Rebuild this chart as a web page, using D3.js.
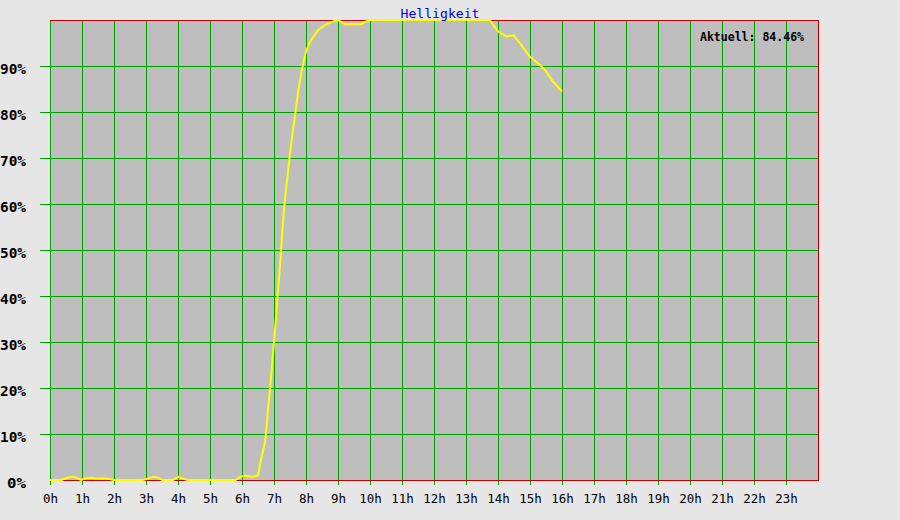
<!DOCTYPE html>
<html>
<head>
<meta charset="utf-8">
<script src="https://cdn.jsdelivr.net/npm/d3@7"></script>
<style>
  html, body { margin: 0; padding: 0; background: #e6e6e6; }
  svg { display: block; }
</style>
</head>
<body>
<svg id="chart" width="900" height="520"></svg>
<script>
// ---- data ----
const title = "Helligkeit";
const currentLabel = "Aktuell: 84.46%";
const hourTicks = d3.range(0, 24);
const percentTicks = [10, 20, 30, 40, 50, 60, 70, 80, 90];
const hours = [
  0.00, 0.35, 0.55, 0.72, 0.85, 0.97, 1.10, 1.30, 1.50, 1.70, 1.85, 2.00,
  2.90, 3.05, 3.25, 3.40, 3.50, 3.85, 4.00, 4.15, 4.30, 5.80, 5.95, 6.10,
  6.30, 6.50, 6.56, 6.66, 6.72, 6.78, 6.81, 6.875, 6.90, 6.98, 7.04, 7.10,
  7.17, 7.22, 7.27, 7.34, 7.42, 7.50, 7.58, 7.68, 7.76, 7.87, 7.97, 8.02,
  8.10, 8.23, 8.38, 8.59, 8.80, 9.00, 9.22, 9.74, 9.84, 10.00, 13.75, 13.85,
  14.01, 14.27, 14.48, 14.69, 15.00, 15.31, 15.47, 15.68, 16.00
];
const brightness = [
  0, 0, 0.5, 0.7, 0.4, 0, 0.4, 0.5, 0.3, 0.4, 0.2, 0,
  0, 0.3, 0.7, 0.4, 0, 0, 0.7, 0.3, 0, 0, 0.7, 0.9,
  0.7, 0.9, 3.3, 6.5, 8.3, 12.4, 15.2, 19.6, 21.7, 28.3, 33.3, 39.1,
  45.0, 50.0, 55.1, 60.9, 65.9, 71.0, 75.4, 80.4, 84.8, 89.1, 92.4, 93.5,
  94.9, 96.4, 97.8, 98.9, 99.6, 100, 99.1, 99.1, 99.6, 100, 100, 98.9,
  97.5, 96.4, 96.7, 94.9, 92.0, 90.2, 89.1, 87.0, 84.46
];

// ---- layout ----
const svg = d3.select("#chart");
const pL = 50, pR = 818, pT = 20, pB = 480;
const x = d3.scaleLinear().domain([0, 24]).range([pL, pR]);
const y = d3.scaleLinear().domain([0, 100]).range([pB, pT]);
const FONT = "'DejaVu Sans Mono', monospace";
const GRID = "#00a000";
const BORDER = "#c00000";

svg.append("rect").attr("width", 900).attr("height", 520).attr("fill", "#e6e6e6");
svg.append("rect")
  .attr("x", pL).attr("y", pT)
  .attr("width", pR - pL).attr("height", pB - pT)
  .attr("fill", "#bebebe");

// x axis (vertical gridlines + labels)
const xAxis = svg.append("g")
  .attr("transform", `translate(0,${pB + 5})`)
  .call(d3.axisBottom(x).tickValues(hourTicks).tickSize(-(pB + 5 - pT))
        .tickPadding(9).tickFormat(d => d + "h"));
xAxis.select(".domain").remove();
xAxis.selectAll(".tick line").attr("stroke", GRID).attr("stroke-width", 1)
  .attr("shape-rendering", "crispEdges");
xAxis.selectAll(".tick text")
  .attr("font-family", FONT).attr("font-size", 12.5).attr("fill", "#000");

// y axis (horizontal gridlines + labels)
const yAxis = svg.append("g")
  .attr("transform", `translate(${pL - 10},0)`)
  .call(d3.axisLeft(y).tickValues(percentTicks).tickSize(-(pR - pL + 10))
        .tickPadding(14).tickFormat(d => d + "%"));
yAxis.select(".domain").remove();
yAxis.selectAll(".tick line").attr("stroke", GRID).attr("stroke-width", 1)
  .attr("shape-rendering", "crispEdges");
yAxis.selectAll(".tick text")
  .attr("font-family", FONT).attr("font-size", 14).attr("font-weight", "bold")
  .attr("fill", "#000").attr("dy", "0.55em")
  .attr("textLength", 26).attr("lengthAdjust", "spacingAndGlyphs");

// 0% label (no gridline)
svg.append("text")
  .attr("x", 26).attr("y", y(0) + 7.7)
  .attr("text-anchor", "end")
  .attr("font-family", FONT).attr("font-size", 14).attr("font-weight", "bold")
  .attr("textLength", 19).attr("lengthAdjust", "spacingAndGlyphs")
  .text("0%");

// red border top/right/bottom
svg.append("path")
  .attr("d", `M${pL},${pT + 0.5}H${pR + 0.5}V${pB + 0.5}H${pL}`)
  .attr("fill", "none").attr("stroke", BORDER).attr("stroke-width", 1)
  .attr("shape-rendering", "crispEdges");

// line
const line = d3.line()
  .x((d, i) => x(hours[i]))
  .y((d, i) => y(brightness[i]));
svg.append("path")
  .datum(brightness)
  .attr("d", line)
  .attr("fill", "none")
  .attr("stroke", "#ffff00")
  .attr("stroke-width", 2)
  .attr("stroke-linejoin", "round");

// title
svg.append("text")
  .attr("x", 440).attr("y", 17.5)
  .attr("text-anchor", "middle")
  .attr("font-family", FONT).attr("font-size", 13)
  .attr("fill", "#0000ee")
  .attr("textLength", 79).attr("lengthAdjust", "spacingAndGlyphs")
  .text(title);

// current value
svg.append("text")
  .attr("x", 700).attr("y", 41.3)
  .attr("font-family", FONT).attr("font-size", 12).attr("font-weight", "bold")
  .attr("fill", "#000")
  .attr("textLength", 104).attr("lengthAdjust", "spacingAndGlyphs")
  .text(currentLabel);
</script>
</body>
</html>
